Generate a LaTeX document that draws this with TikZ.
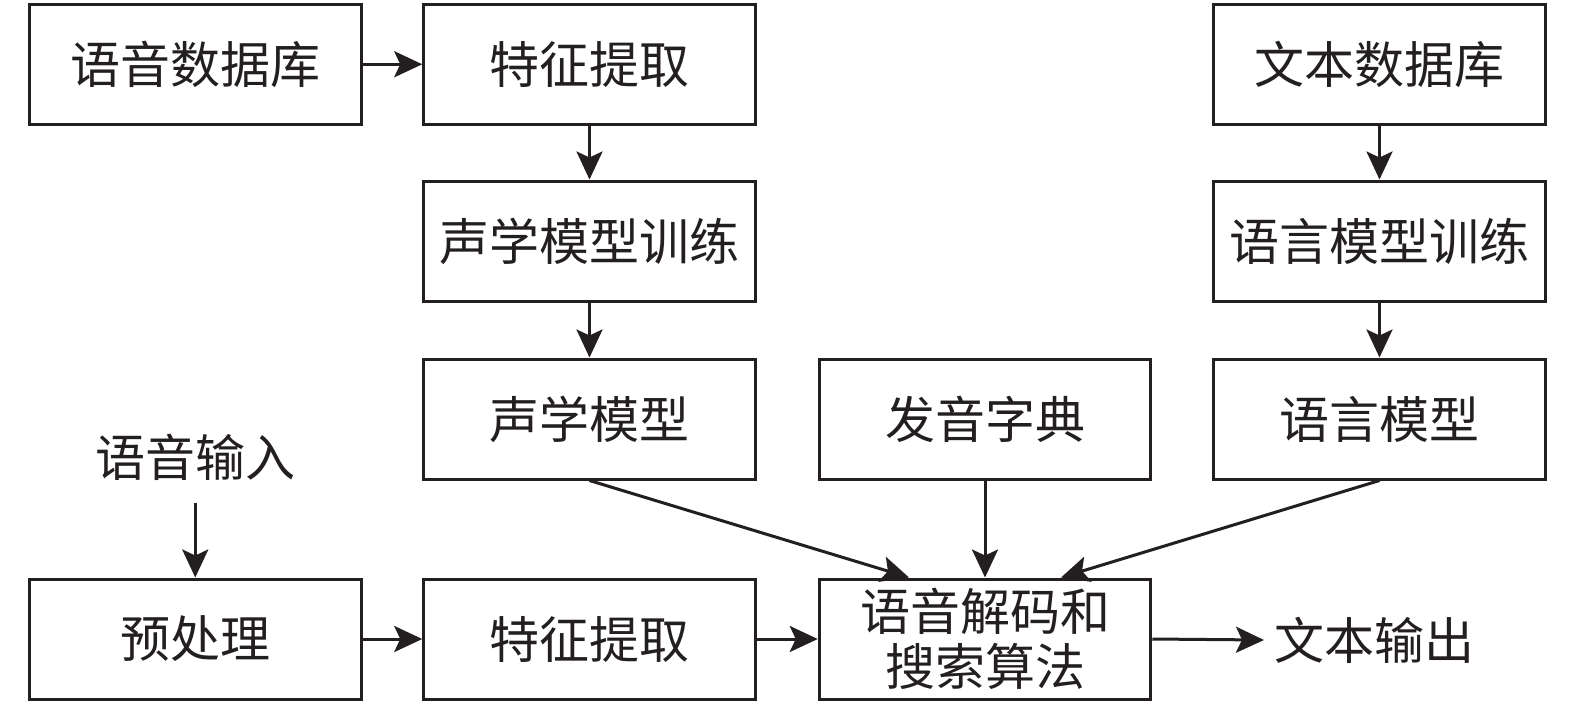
\documentclass[tikz,border=0pt]{standalone}
\usepackage{fontspec}
\newfontfamily\cjk{Noto Sans CJK SC}
\usetikzlibrary{arrows.meta}
\definecolor{ink}{RGB}{35,31,32}
\begin{document}
\begin{tikzpicture}[x=0.5pt,y=-0.5pt,
  box/.style={draw=ink, line width=1.5pt, minimum width=165.75pt, minimum height=60pt,
    inner sep=0pt, align=center, text=ink, font=\cjk\fontsize{25}{27.5}\selectfont},
  lbl/.style={inner sep=0pt, text=ink, font=\cjk\fontsize{25}{27.5}\selectfont},
  arr/.style={draw=ink, line width=1.5pt, -{Stealth[length=14pt,width=13pt,inset=3pt]}}]
\useasboundingbox (0,0) rectangle (1575,703);
% row 1
\node[box] (sdb) at (195.25,64.25) {语音数据库};
\node[box] (fe1) at (589.5,64.25) {特征提取};
\node[box] (tdb) at (1379.5,64.25) {文本数据库};
% row 2
\node[box] (amt) at (589.5,241) {声学模型训练};
\node[box] (lmt) at (1379.5,241) {语言模型训练};
% row 3
\node[box] (am) at (589.5,419) {声学模型};
\node[box] (dict) at (985,419) {发音字典};
\node[box] (lm) at (1379.5,419) {语言模型};
% row 4
\node[lbl, inner ysep=11pt] (sin) at (195.25,457) {语音输入};
\node[box] (pre) at (195.25,639) {预处理};
\node[box] (fe2) at (589.5,639) {特征提取};
\node[box] (dec) at (985,639) {语音解码和\\搜索算法};
\node[lbl, inner xsep=5pt, anchor=west] (out) at (1264,640) {文本输出};
% connectors
\draw[arr] (sdb) -- (fe1);
\draw[arr] (fe1) -- (amt);
\draw[arr] (amt) -- (am);
\draw[arr] (tdb) -- (lmt);
\draw[arr] (lmt) -- (lm);
\draw[arr] (sin) -- (pre);
\draw[arr] (pre) -- (fe2);
\draw[arr] (fe2) -- (dec);
\draw[arr] (dec.east) -- (out.west);
\draw[arr] (am.south) -- ([xshift=-38pt]dec.north);
\draw[arr] (dict.south) -- (dec.north);
\draw[arr] (lm.south) -- ([xshift=38pt]dec.north);
\end{tikzpicture}
\end{document}
